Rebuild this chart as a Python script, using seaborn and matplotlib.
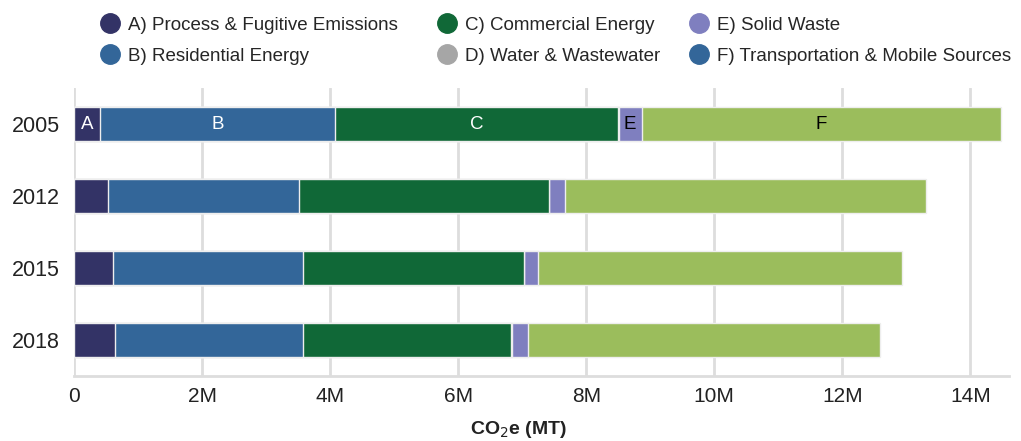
import pandas as pd
import matplotlib.pyplot as plt
from matplotlib.lines import Line2D
from matplotlib.ticker import FuncFormatter
import seaborn as sns

# values in million MT CO2e
years = ["2005", "2012", "2015", "2018"]
sectors = ["A", "B", "C", "D", "E", "F"]
sector_names = ["A) Process & Fugitive Emissions", "B) Residential Energy",
                "C) Commercial Energy", "D) Water & Wastewater",
                "E) Solid Waste", "F) Transportation & Mobile Sources"]
process = [0.41, 0.53, 0.61, 0.64]
residential = [3.66, 2.98, 2.96, 2.93]
commercial = [4.43, 3.91, 3.46, 3.26]
water = [0.005, 0.005, 0.005, 0.005]
waste = [0.36, 0.24, 0.21, 0.25]
transport = [5.61, 5.64, 5.68, 5.50]

bar_colors = ["#333366", "#336699", "#106837", "#a6a6a6", "#7f7fbf", "#9bbd5c"]
legend_colors = ["#333366", "#336699", "#106837", "#a6a6a6", "#7f7fbf", "#336699"]
label_colors = ["white", "white", "white", "black", "black", "black"]

sns.set_style("white")
plt.rcParams["font.family"] = ["Liberation Sans", "DejaVu Sans"]

df = pd.DataFrame({"year": years, "A": process, "B": residential, "C": commercial,
                   "D": water, "E": waste, "F": transport})
df_cum = df.set_index("year")[sectors].cumsum(axis=1) * 1e6
df_cum = df_cum.reset_index()

fig, ax = plt.subplots(figsize=(10.21, 4.41), dpi=100)
fig.subplots_adjust(left=0.0725, right=0.988, bottom=0.147, top=0.8005)

ax.grid(axis="x", color="#dddddd", linewidth=2)
ax.set_axisbelow(True)

# stack by drawing cumulative totals, longest first
for i in range(len(sectors) - 1, -1, -1):
    sns.barplot(data=df_cum, x=sectors[i], y="year", order=years, orient="h",
                color=bar_colors[i], saturation=1, width=0.47,
                edgecolor="#eeeeee", linewidth=1, ax=ax)

# segment letters on the 2005 bar
row = df_cum.iloc[0]
prev = 0
for i, s in enumerate(sectors):
    end = row[s]
    if s != "D":
        ax.text((prev + end) / 2, 0, s, ha="center", va="center",
                color=label_colors[i], fontsize=13.5)
    prev = end

ax.set_xlim(0, 14.6e6)
ax.set_ylim(3.5, -0.5)
ax.xaxis.set_major_formatter(FuncFormatter(lambda v, p: "0" if v == 0 else "{:.0f}M".format(v / 1e6)))
ax.set_xticks([0, 2e6, 4e6, 6e6, 8e6, 10e6, 12e6, 14e6])
ax.tick_params(axis="x", labelsize=15, length=0, pad=8, colors="#222222")
ax.tick_params(axis="y", labelsize=15.5, length=4, color="#bbbbbb", colors="#222222", pad=6)
ax.set_ylabel("")
ax.set_xlabel("CO$_2$e (MT)", fontsize=14, fontweight="bold", color="#222222")
ax.xaxis.set_label_coords(0.476, -0.15)

for side in ["top", "right", "left"]:
    ax.spines[side].set_visible(False)
ax.spines["bottom"].set_color("#dddddd")
ax.spines["bottom"].set_linewidth(2)

# legend: three columns of two entries, placed one by one
handles = [Line2D([], [], marker="o", linestyle="", markersize=14,
                  markerfacecolor=c, markeredgecolor=c) for c in legend_colors]
col_x = [101, 438, 690]
for k in range(3):
    fig.legend(handles[2 * k:2 * k + 2], sector_names[2 * k:2 * k + 2], loc="upper left",
               bbox_to_anchor=((col_x[k] - 17) / 1021, 1.0), frameon=False,
               fontsize=13.5, handletextpad=0.46, labelspacing=0.72, handlelength=1.0)

fig.savefig("out.png", dpi=100)
